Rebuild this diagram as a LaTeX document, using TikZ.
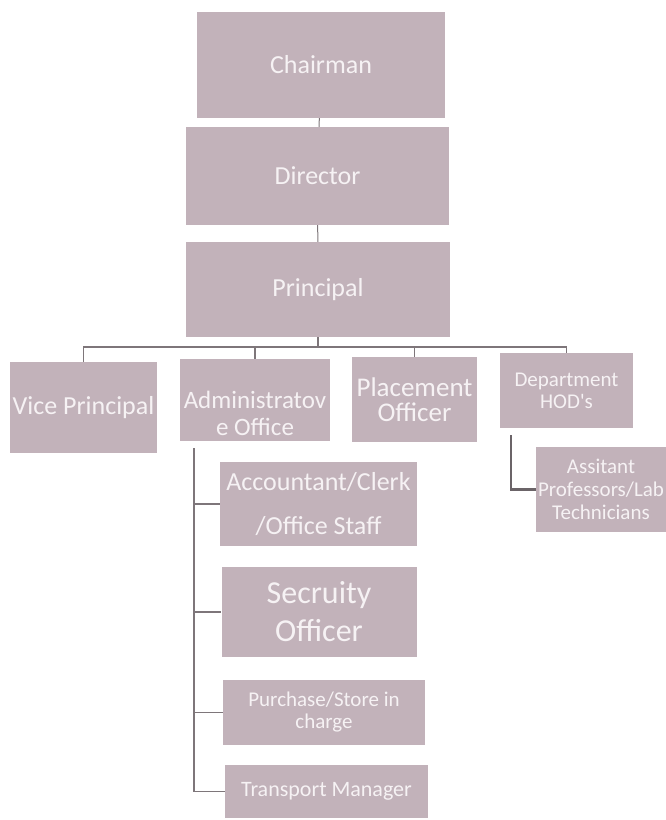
\documentclass[tikz,border=0pt]{standalone}
\usepackage{fontspec}
\setmainfont{Carlito}
\definecolor{boxfill}{RGB}{194,178,186}
\definecolor{boxtext}{RGB}{246,242,244}
\definecolor{linegray}{RGB}{126,118,122}

\begin{document}
\begin{tikzpicture}[x=1pt,y=-1pt,
    box/.style={fill=boxfill,text=boxtext,inner sep=0pt,align=center},
    link/.style={draw=linegray,line width=1.6pt}]
  \useasboundingbox (0,0) rectangle (665,820);
  % chain at the top
  \node[box,minimum width=248,minimum height=106,
    font=\fontsize{26}{30}\selectfont] (chair) at (321,65) {Chairman};
  \node[box,minimum width=263,minimum height=98,
    font=\fontsize{26}{30}\selectfont] (dir) at (317.5,176) {Director};
  \node[box,minimum width=264,minimum height=95,
    font=\fontsize{26}{30}\selectfont] (prin) at (318,289.5) {Principal};
  \draw[link,line width=1pt] (chair) -- (dir);
  \draw[link,line width=1pt] (dir) -- (prin);
  % second row
  \node[box,minimum width=147,minimum height=91,
    font=\fontsize{26}{30}\selectfont] (vp) at (83.5,407.5) {Vice Principal};
  \node[box,minimum width=150,minimum height=82,
    font=\fontsize{25}{27}\selectfont] (admin) at (255,400)
    {\rule{0pt}{44pt}Administratov\\e Office};
  \node[box,minimum width=125,minimum height=85,
    font=\fontsize{27}{25}\selectfont] (place) at (414.5,399.5)
    {Placement\\Officer};
  \node[box,minimum width=133,minimum height=75,
    font=\fontsize{21}{22}\selectfont] (dept) at (566.5,390.5)
    {Department\\HOD\textquotesingle s};
  \draw[link] (prin.south) -- ++(0,10) coordinate (bus);
  \draw[link] (vp.north) |- (bus) -| (dept.north);
  \foreach \n in {admin,place}
    \draw[link] (\n.north) -- (\n.north |- bus);
  % under the office
  \node[box,minimum width=197,minimum height=84,
    font=\fontsize{26}{44}\selectfont] (acc) at (318.5,504)
    {Accountant/Clerk\\/Office Staff};
  \node[box,minimum width=195,minimum height=90,
    font=\fontsize{32}{38}\selectfont] (sec) at (319,612)
    {Secruity\\Officer};
  \node[box,minimum width=202,minimum height=65,
    font=\fontsize{21}{22}\selectfont] (purch) at (324,712.5)
    {Purchase/Store in\\charge};
  \node[box,minimum width=203,minimum height=53,
    font=\fontsize{22}{24}\selectfont] (trans) at (326.5,791.5)
    {Transport Manager};
  \coordinate (spine) at (194,448);
  \draw[link] (spine) |- (trans.west);
  \foreach \n in {acc,sec,purch}
    \draw[link] (spine |- \n.west) -- (\n.west);
  % under the HODs
  \node[box,minimum width=130,minimum height=85,
    font=\fontsize{21}{23}\selectfont] (asst) at (601,489.5)
    {Assitant\\Professors/Lab\\Technicians};
  \coordinate (leg) at (511,435);
  \draw[link,line width=2.6pt,draw=linegray!85!black] (leg) |- (asst.west);
\end{tikzpicture}
\end{document}
